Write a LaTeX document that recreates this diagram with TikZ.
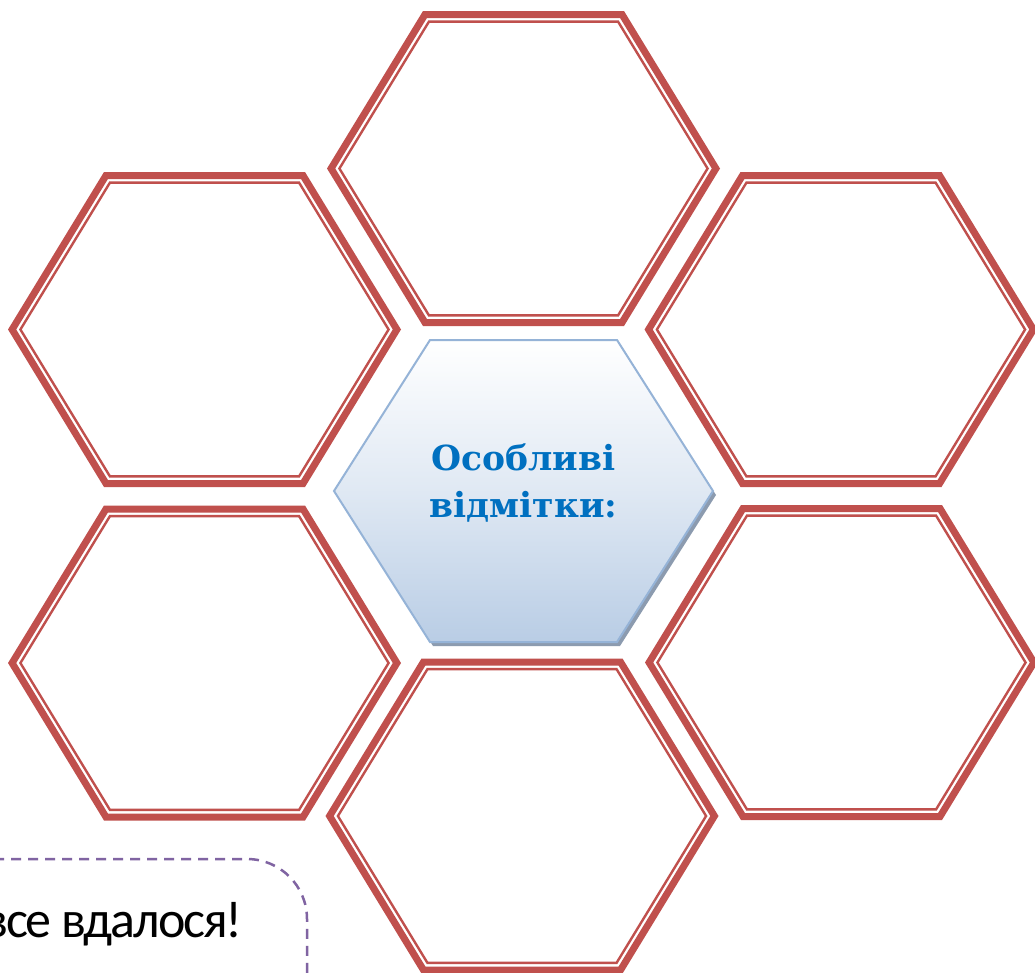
\documentclass[tikz,border=0pt]{standalone}
\usepackage{fontspec}
\newfontfamily\titlefont{DejaVu Serif}
\newfontfamily\notefont[LetterSpace=-4]{Carlito}
\definecolor{hexred}{RGB}{192,80,77}
\definecolor{hexblue}{RGB}{149,179,215}
\definecolor{fillblue}{RGB}{185,205,229}
\definecolor{shadowgray}{RGB}{140,155,175}
\definecolor{titleblue}{RGB}{0,112,192}
\definecolor{notepurple}{RGB}{128,100,162}
\tikzset{
  thickred/.style={draw=hexred, line width=7pt, line join=miter},
  thinred/.style={draw=hexred, line width=2.4pt, line join=miter},
  titletext/.style={text=titleblue, font=\titlefont\bfseries\fontsize{34.5}{40}\selectfont, anchor=base, inner sep=0pt},
  notetext/.style={text=black, font=\notefont\fontsize{52}{60}\selectfont, anchor=base east, inner sep=0pt},
  noteframe/.style={draw=notepurple, line width=2.5pt, dash pattern=on 10pt off 7pt, rounded corners=60pt}
}
% red double-line hexagon: #1 centre x, #2 centre y
\newcommand\redhexagon[2]{%
  \foreach \dd/\sty in {3.5/thickred, 10.6/thinred}{%
    \pgfmathsetmacro\Hh{157.5-\dd}%
    \pgfmathsetmacro\Ww{196.5-\dd*184.45/157.5}%
    \pgfmathsetmacro\Kk{\Ww-96*\Hh/157.5}%
    \path[\sty] (#1-\Ww,#2) -- (#1-\Kk,#2-\Hh) -- (#1+\Kk,#2-\Hh) -- (#1+\Ww,#2)
      -- (#1+\Kk,#2+\Hh) -- (#1-\Kk,#2+\Hh) -- cycle;
  }%
}
\begin{document}
\begin{tikzpicture}[x=1pt,y=-1pt]
\useasboundingbox (0,0) rectangle (1035,972);
\fill[white] (0,0) rectangle (1035,972);

% six outer hexagons
\redhexagon{523.5}{168.5}
\redhexagon{204.5}{329.5}
\redhexagon{841}{329.5}
\redhexagon{204.5}{663}
\redhexagon{841.5}{662.5}
\redhexagon{522}{816}

% central hexagon
\coordinate (c) at (523.5,491);
\fill[shadowgray] ([shift={(3,4)}]c) ++(-189.5,0) -- ++(96,-151) -- ++(187,0) -- ++(96,151) -- ++(-96,151) -- ++(-187,0) -- cycle;
\shade[top color=white, bottom color=fillblue, middle color={fillblue!45!white}, draw=hexblue, line width=2pt]
  (c) ++(-189.5,0) -- ++(96,-151) -- ++(187,0) -- ++(96,151) -- ++(-96,151) -- ++(-187,0) -- cycle;
\node[titletext] (title1) at (523.5,470) {Особливі};
\node[titletext] (title2) at (523.5,517) {відмітки:};

% dashed note frame
\begin{scope}
\clip (0,0) rectangle (1035,972);
\draw[noteframe] (-40,859) -- (307,859) -- (307,1010);
\node[notetext] (note) at (243,937) {все вдалося!};
\end{scope}
\end{tikzpicture}
\end{document}
